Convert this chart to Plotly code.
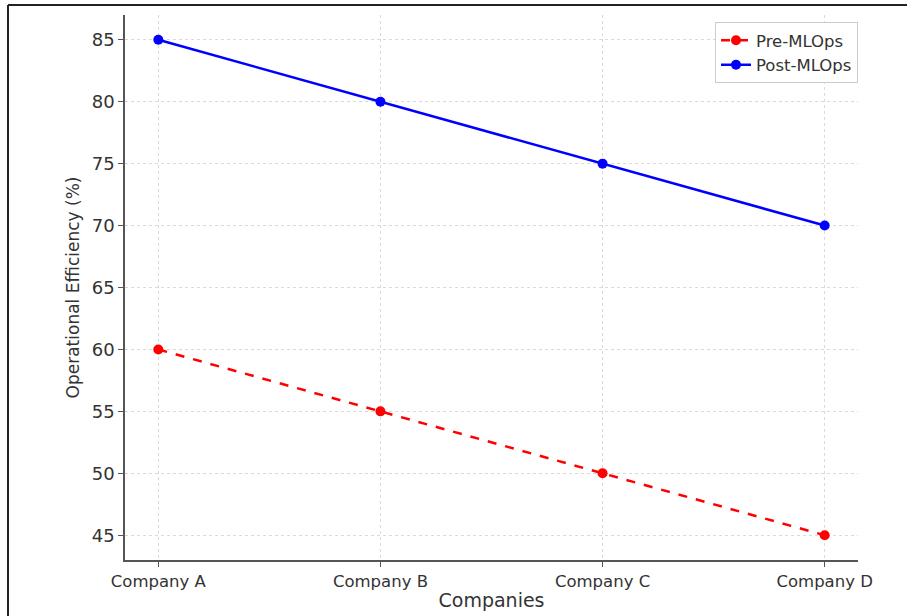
import plotly.graph_objects as go

companies = ["Company A", "Company B", "Company C", "Company D"]
pre_mlops = [60, 55, 50, 45]
post_mlops = [85, 80, 75, 70]
y_ticks = [45, 50, 55, 60, 65, 70, 75, 80, 85]

FONT = "DejaVu Sans"
TEXT = "#333333"

fig = go.Figure()
fig.add_trace(go.Scatter(
    x=companies, y=pre_mlops, name="Pre-MLOps", mode="lines+markers",
    line=dict(color="red", width=2.5, dash="dash"),
    marker=dict(color="red", size=10),
))
fig.add_trace(go.Scatter(
    x=companies, y=post_mlops, name="Post-MLOps", mode="lines+markers",
    line=dict(color="blue", width=2.5),
    marker=dict(color="blue", size=10),
))

axis_common = dict(
    showgrid=True, gridcolor="#dadada", griddash="dot", gridwidth=1,
    showline=True, linecolor="#555555", linewidth=1.5,
    ticks="outside", ticklen=5, tickcolor="#555555",
    zeroline=False, automargin=False,
)

fig.update_xaxes(
    **axis_common, range=[-0.15, 3.15],
    tickfont=dict(family=FONT, size=16.5, color=TEXT),
    title=dict(text="Companies", font=dict(family=FONT, size=19, color=TEXT), standoff=4),
)
fig.update_yaxes(
    **axis_common, range=[43, 87], tickvals=y_ticks,
    tickfont=dict(family=FONT, size=18, color=TEXT),
    title=dict(text="Operational Efficiency (%)", font=dict(family=FONT, size=17, color=TEXT), standoff=8),
)

# frame lines along the top and left of the page
fig.add_shape(type="line", xref="paper", yref="paper",
              x0=(8 - 125) / 733, x1=(907 - 125) / 733,
              y0=1 + 10 / 545, y1=1 + 10 / 545,
              line=dict(color="#222222", width=2))
fig.add_shape(type="line", xref="paper", yref="paper",
              x0=(8 - 125) / 733, x1=(8 - 125) / 733,
              y0=1 + 10 / 545, y1=-56 / 545 - 0.01,
              line=dict(color="#222222", width=2))

fig.update_layout(
    width=907, height=616,
    margin=dict(l=125, r=49, t=15, b=56),
    plot_bgcolor="white", paper_bgcolor="white",
    font=dict(family=FONT, color=TEXT),
    legend=dict(
        x=1, xanchor="right", y=0.987, yanchor="top",
        bgcolor="white", bordercolor="#cccccc", borderwidth=1,
        font=dict(family=FONT, size=16.5, color=TEXT),
    ),
    showlegend=True,
)

fig.write_html("out.html")
